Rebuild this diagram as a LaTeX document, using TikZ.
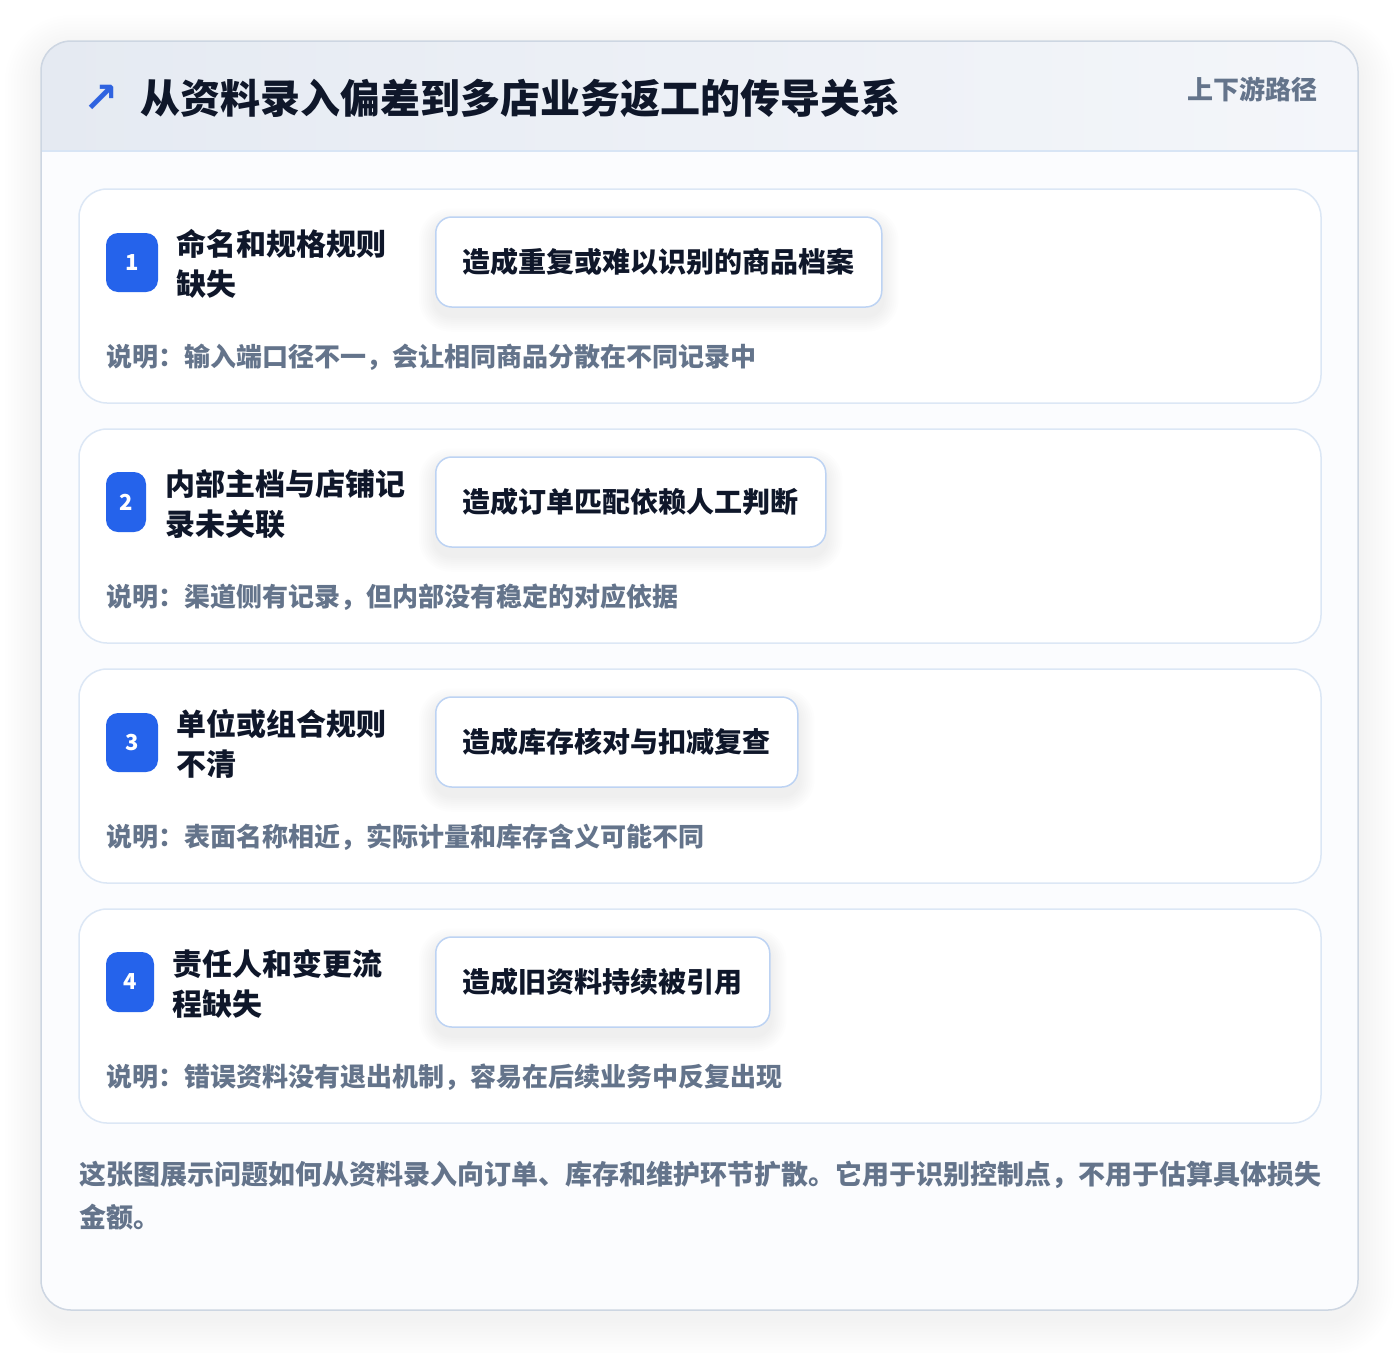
\documentclass[tikz,border=0pt]{standalone}
\usepackage{fontspec}
\setmainfont{Noto Sans CJK SC}
\newfontfamily\dejavu{DejaVu Sans}
\usetikzlibrary{calc}
\pgfdeclarelayer{back}
\pgfdeclarelayer{shad}
\pgfsetlayers{back,shad,main}
\definecolor{ink}{HTML}{0F172A}
\definecolor{muted}{HTML}{64748B}
\definecolor{badgeblue}{HTML}{2563EB}
\definecolor{arrowblue}{HTML}{2F63E0}
\definecolor{cardborder}{HTML}{DCE7F5}
\definecolor{resborder}{HTML}{BDD3F3}
\definecolor{outerborder}{HTML}{CDD6E2}
\definecolor{headleft}{HTML}{E5EAF2}
\definecolor{headright}{HTML}{F4F6FA}
\definecolor{headline}{HTML}{D8E5F5}
\definecolor{bodybg}{HTML}{FBFCFE}
\newcommand\softshadow[7]{%
  \foreach \k in {1,...,#4}{
    \fill[black, opacity=#7, rounded corners={(#3+\k*#5)*1pt}]
      ($(#1)+(-\k*#5,#6+\k*#5)$) rectangle ($(#2)+(\k*#5,#6-\k*#5)$);
  }}
\tikzset{
  card/.style={draw=cardborder, line width=1.5pt, fill=white, rounded corners=28pt,
    minimum width=1242pt, minimum height=214pt, inner sep=0pt},
  badge/.style={fill=badgeblue, rounded corners=12pt, text=white, inner sep=0pt,
    font=\fontsize{22}{22}\selectfont\bfseries},
  cause/.style={anchor=west, align=left, text=ink, inner sep=0pt,
    font=\fontsize{30}{40}\selectfont\bfseries},
  result/.style={anchor=west, draw=resborder, line width=1.5pt, fill=white, rounded corners=16pt,
    minimum height=90pt, inner xsep=27pt, text=ink,
    font=\fontsize{28}{28}\selectfont\bfseries},
  note/.style={anchor=west, text=muted, inner sep=0pt, font=\fontsize{26}{26}\selectfont\bfseries},
  foot/.style={anchor=west, text=muted, inner sep=0pt, font=\fontsize{27}{27}\selectfont\bfseries}
}
\begin{document}
\begin{tikzpicture}[x=1pt,y=-1pt]
\useasboundingbox (0,0) rectangle (1400,1352);
\begin{pgfonlayer}{back}
\fill[white] (0,0) rectangle (1400,1352);
% outer card shadow
\coordinate (osw) at (41,1310);
\coordinate (one) at (1358,41);
\softshadow{osw}{one}{30}{12}{3}{10}{0.0045}
% outer card
\path[fill=bodybg, rounded corners=30pt] (41,41) rectangle (1358,1310);
\begin{scope}
  \clip[rounded corners=30pt] (41,41) rectangle (1358,1310);
  \fill[left color=headleft, right color=headright] (41,41) rectangle (1358,151);
\end{scope}
\draw[headline, line width=1.5pt] (41,151) -- (1358,151);
\draw[outerborder, line width=1.5pt, rounded corners=30pt] (41,41) rectangle (1358,1310);
% cards
\node[card] (card1) at (700,296) {};
\node[card] (card2) at (700,536) {};
\node[card] (card3) at (700,776) {};
\node[card] (card4) at (700,1016) {};
\end{pgfonlayer}
% header
\node[text=arrowblue, inner sep=0pt, font=\dejavu\bfseries\fontsize{42}{42}\selectfont] (icon) at (101,99) {↗};
\node[anchor=west, text=ink, inner sep=0pt, font=\fontsize{40}{40}\selectfont\bfseries] (title) at (140,98) {从资料录入偏差到多店业务返工的传导关系};
\node[anchor=east, text=muted, inner sep=0pt, font=\fontsize{26}{26}\selectfont\bfseries] (tag) at (1318,89) {上下游路径};
% card 1
\node[badge, minimum width=52pt, minimum height=59pt] (b1) at (132,262.5) {1};
\node[cause] (c1) at (176,264) {命名和规格规则\\缺失};
\node[result] (r1) at (435,262) {造成重复或难以识别的商品档案};
\node[note] (n1) at (106,357) {说明：输入端口径不一，会让相同商品分散在不同记录中};
% card 2
\node[badge, minimum width=40pt, minimum height=60pt] (b2) at (126,502) {2};
\node[cause] (c2) at (165,504) {内部主档与店铺记\\录未关联};
\node[result] (r2) at (435,502) {造成订单匹配依赖人工判断};
\node[note] (n2) at (106,597) {说明：渠道侧有记录，但内部没有稳定的对应依据};
% card 3
\node[badge, minimum width=52pt, minimum height=59pt] (b3) at (132,742.5) {3};
\node[cause] (c3) at (176,744) {单位或组合规则\\不清};
\node[result] (r3) at (435,742) {造成库存核对与扣减复查};
\node[note] (n3) at (106,837) {说明：表面名称相近，实际计量和库存含义可能不同};
% card 4
\node[badge, minimum width=48pt, minimum height=60pt] (b4) at (130,982) {4};
\node[cause] (c4) at (172,984) {责任人和变更流\\程缺失};
\node[result] (r4) at (435,982) {造成旧资料持续被引用};
\node[note] (n4) at (106,1077) {说明：错误资料没有退出机制，容易在后续业务中反复出现};
% result shadows
\begin{pgfonlayer}{shad}
\foreach \r in {r1,r2,r3,r4}{
  \softshadow{\r.south west}{\r.north east}{16}{8}{2}{8}{0.006}
}
\end{pgfonlayer}
% footer
\node[foot] (f1) at (79,1175) {这张图展示问题如何从资料录入向订单、库存和维护环节扩散。它用于识别控制点，不用于估算具体损失};
\node[foot] (f2) at (79,1217) {金额。};
\end{tikzpicture}
\end{document}
